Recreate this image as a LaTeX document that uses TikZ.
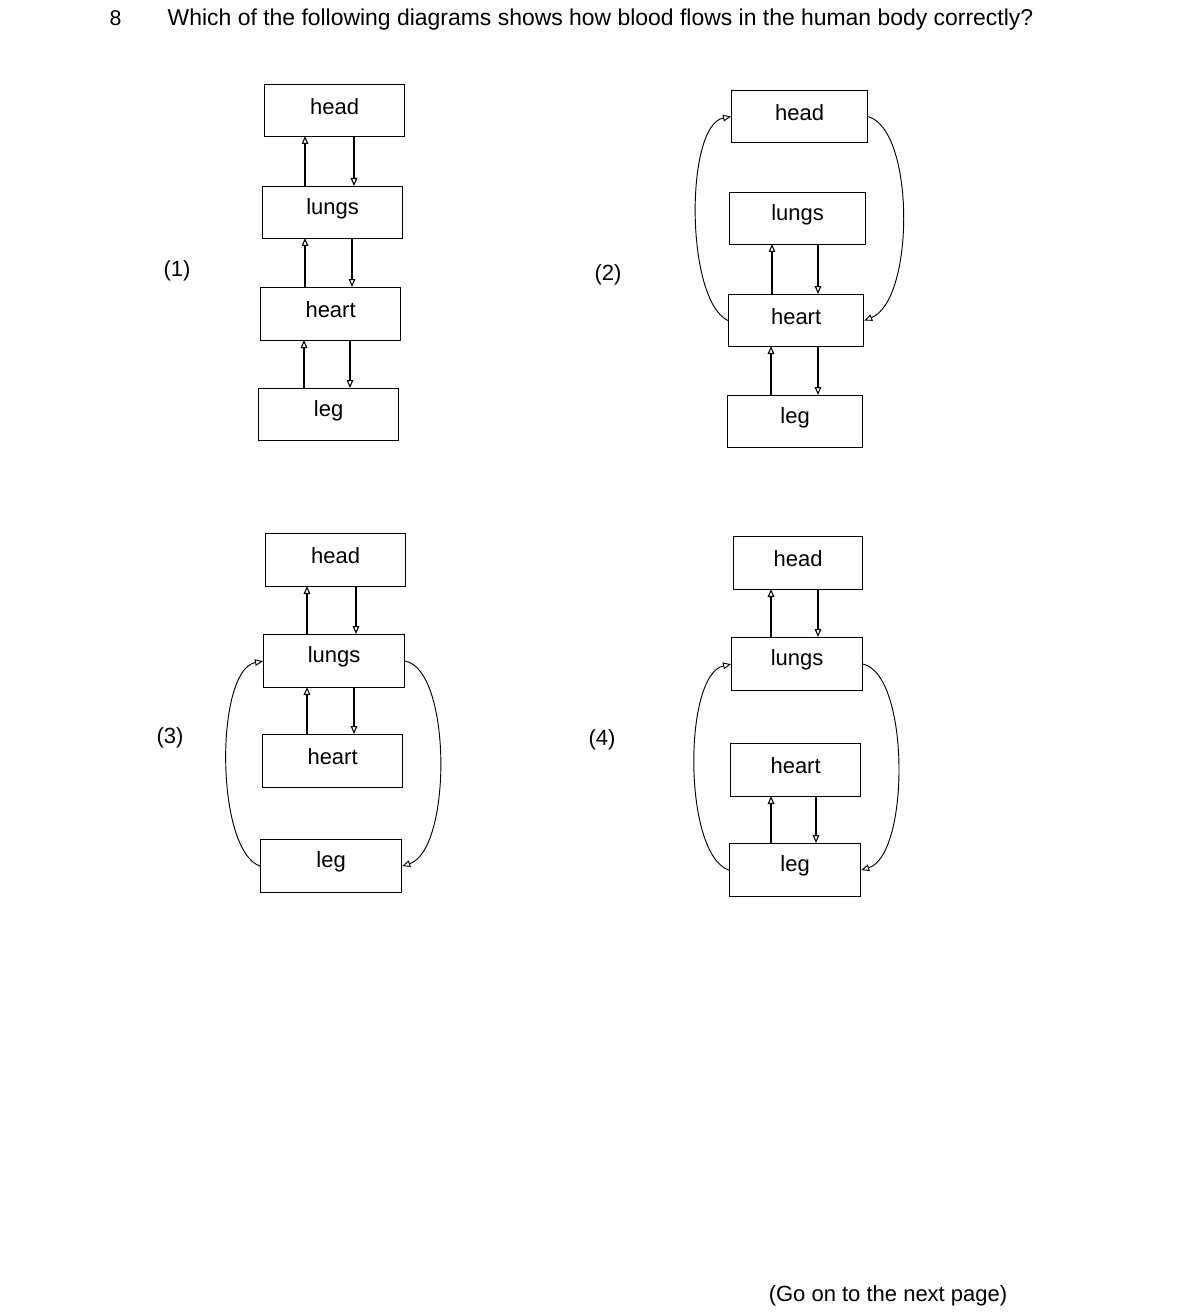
\documentclass[tikz,border=0pt]{standalone}
\usepackage{fontspec}
\setmainfont{Liberation Sans}
\usetikzlibrary{arrows.meta}
\begin{document}
\begin{tikzpicture}[x=0.75pt,y=-0.75pt,
  box/.style={draw,line width=0.9pt,inner sep=0pt,anchor=north west},
  lbl/.style={font=\fontsize{16.5}{18}\selectfont},
  arr/.style={line width=0.8pt,-{Triangle[open,length=6pt,width=5pt]}},
  crv/.style={line width=0.7pt,-{Triangle[open,length=6pt,width=5pt]}}]
\useasboundingbox (0,0) rectangle (1191,1316);
\node[anchor=west,font=\fontsize{16}{18}\selectfont] (num) at (105,18) {8};
\node[anchor=west,font=\fontsize{17.2}{18}\selectfont] (q) at (163,20) {Which of the following diagrams shows how blood flows in the human body correctly?};
\node[font=\fontsize{16.5}{18}\selectfont] (go) at (888,1296) {(Go on to the next page)};
\newcommand{\bx}[6]{\node[box,minimum width=#4*0.75pt,minimum height=#5*0.75pt] (#1) at (#2,#3) {}; \node[lbl] at ([yshift=3pt]#1.center) {#6};}
% diagram 1
\bx{ha}{264}{84}{140}{52}{head}
\bx{la}{262}{186}{140}{52}{lungs}
\bx{ca}{260}{287}{140}{53}{heart}
\bx{ga}{258}{388}{140}{52}{leg}
\node[lbl] (n1) at (177,271) {(1)};
\draw[arr] (305,186) -- (305,136); \draw[arr] (354,136) -- (354,186);
\draw[arr] (305,287) -- (305,238); \draw[arr] (352,238) -- (352,287);
\draw[arr] (304,388) -- (304,340); \draw[arr] (350,340) -- (350,388);
% diagram 2
\bx{hb}{731}{90}{136}{52}{head}
\bx{lb}{729}{192}{136}{52}{lungs}
\bx{cb}{728}{294}{135}{52}{heart}
\bx{gb}{727}{395}{135}{52}{leg}
\node[lbl] (n2) at (608,275) {(2)};
\draw[arr] (772,294) -- (772,244); \draw[arr] (818,244) -- (818,294);
\draw[arr] (771,395) -- (771,346); \draw[arr] (818,346) -- (818,395);
\draw[crv] (cb.west) .. controls (685,300) and (685,125) .. (hb.west);
\draw[crv] (hb.east) .. controls (915,130) and (915,300) .. (cb.east);
% diagram 3
\bx{hc}{265}{533}{140}{53}{head}
\bx{lc}{263}{634}{141}{53}{lungs}
\bx{cc}{262}{734}{140}{53}{heart}
\bx{gc}{260}{839}{141}{53}{leg}
\node[lbl] (n3) at (170,738) {(3)};
\draw[arr] (307,634) -- (307,586); \draw[arr] (356,586) -- (356,634);
\draw[arr] (307,734) -- (307,687); \draw[arr] (354,687) -- (354,734);
\draw[crv] (gc.west) .. controls (215,850) and (215,670) .. (lc.west);
\draw[crv] (lc.east) .. controls (452,670) and (452,850) .. (gc.east);
% diagram 4
\bx{hd}{733}{536}{129}{53}{head}
\bx{ld}{731}{637}{131}{53}{lungs}
\bx{cd}{730}{743}{130}{53}{heart}
\bx{gd}{729}{843}{131}{53}{leg}
\node[lbl] (n4) at (602,740) {(4)};
\draw[arr] (771,637) -- (771,589); \draw[arr] (818,589) -- (818,637);
\draw[arr] (771,843) -- (771,796); \draw[arr] (816,796) -- (816,843);
\draw[crv] (gd.west) .. controls (683,855) and (683,675) .. (ld.west);
\draw[crv] (ld.east) .. controls (910,675) and (910,855) .. (gd.east);
\end{tikzpicture}
\end{document}
